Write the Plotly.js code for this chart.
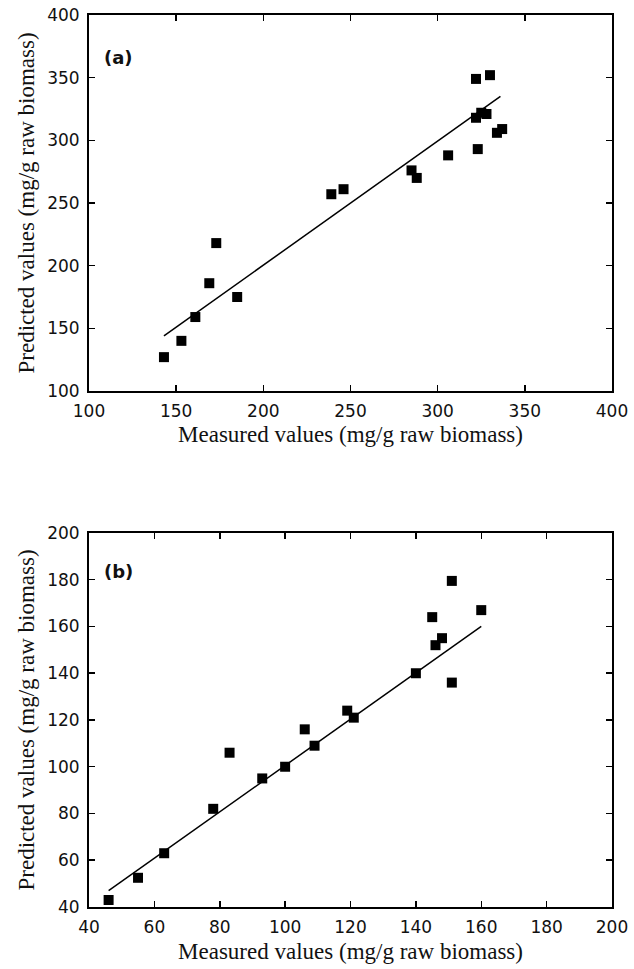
<!DOCTYPE html>
<html>
<head>
<meta charset="utf-8">
<script src="https://cdn.plot.ly/plotly-3.0.1.min.js"></script>
<style>
  html, body { margin: 0; padding: 0; background: #fff; }
  #chart { width: 634px; height: 969px; }
</style>
</head>
<body>
<div id="chart"></div>
<script>
// Panel (a): measured vs predicted (mg/g raw biomass)
const measuredA = [143, 153, 161, 169, 173, 185, 239, 246, 285, 288, 306, 322, 330, 322, 325, 328, 323, 334, 337];
const predictedA = [127, 140, 159, 186, 218, 175, 257, 261, 276, 270, 288, 349, 352, 318, 322, 321, 293, 306, 309];
const fitXA = [143, 336];
const fitYA = [144, 335];

// Panel (b): measured vs predicted (mg/g raw biomass)
const measuredB = [46, 55, 63, 78, 83, 93, 100, 106, 109, 119, 121, 151, 160, 145, 148, 146, 140, 151];
const predictedB = [43, 52.5, 63, 82, 106, 95, 100, 116, 109, 124, 121, 179.5, 167, 164, 155, 152, 140, 136];
const fitXB = [46, 160];
const fitYB = [47, 160];

const xTitle = 'Measured values (mg/g raw biomass)';
const yTitle = 'Predicted values (mg/g raw biomass)';

const tickFont = { family: 'DejaVu Sans', size: 17, color: '#111' };
const titleFont = { family: 'Liberation Serif', size: 23, color: '#111' };

function scatter(x, y, xa, ya) {
  return {
    x: x, y: y, xaxis: xa, yaxis: ya, type: 'scatter', mode: 'markers',
    marker: { symbol: 'square', size: 10, color: '#000' },
    showlegend: false, hoverinfo: 'x+y'
  };
}
function fit(x, y, xa, ya) {
  return {
    x: x, y: y, xaxis: xa, yaxis: ya, type: 'scatter', mode: 'lines',
    line: { color: '#000', width: 1.5 },
    showlegend: false, hoverinfo: 'skip'
  };
}

function axis(range, dtick, domain, anchor, title) {
  return {
    range: range, dtick: dtick, tick0: range[0], domain: domain, anchor: anchor,
    showgrid: false, zeroline: false,
    showline: true, linecolor: '#000', linewidth: 2, mirror: 'ticks',
    ticks: 'inside', ticklen: 6, tickwidth: 1.5, tickcolor: '#000',
    tickfont: tickFont, ticklabelstandoff: 4,
    title: { text: title, font: titleFont, standoff: 6 }
  };
}

const data = [
  fit(fitXA, fitYA, 'x', 'y'),
  scatter(measuredA, predictedA, 'x', 'y'),
  fit(fitXB, fitYB, 'x2', 'y2'),
  scatter(measuredB, predictedB, 'x2', 'y2')
];

const layout = {
  width: 634, height: 969,
  margin: { l: 89, r: 22, t: 15, b: 62 },
  paper_bgcolor: '#fff', plot_bgcolor: '#fff',
  xaxis: axis([100, 400], 50, [0, 1], 'y', xTitle),
  yaxis: axis([100, 400], 50, [0.5785, 1], 'x', yTitle),
  xaxis2: axis([40, 200], 20, [0, 1], 'y2', xTitle),
  yaxis2: axis([40, 200], 20, [0, 0.4193], 'x2', yTitle),
  annotations: [
    { text: '(a)', xref: 'x', yref: 'y', x: 117, y: 366, showarrow: false,
      font: { family: 'DejaVu Sans', size: 18, color: '#111', weight: 'bold' } },
    { text: '(b)', xref: 'x2', yref: 'y2', x: 49, y: 183.5, showarrow: false,
      font: { family: 'DejaVu Sans', size: 18, color: '#111', weight: 'bold' } }
  ]
};

Plotly.newPlot('chart', data, layout, { displayModeBar: false, staticPlot: true });
</script>
</body>
</html>
